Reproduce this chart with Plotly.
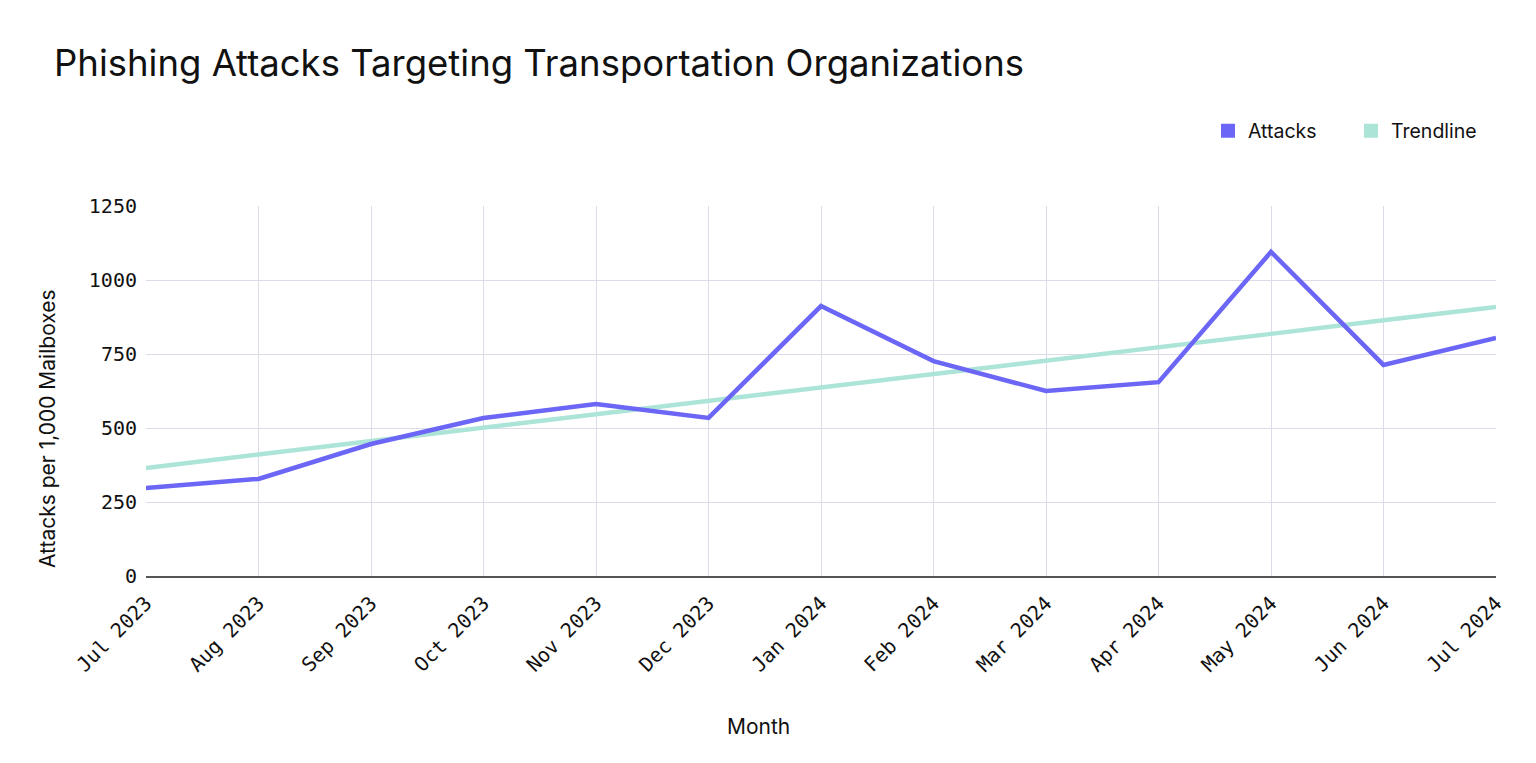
import plotly.graph_objects as go

months = ["Jul 2023", "Aug 2023", "Sep 2023", "Oct 2023", "Nov 2023", "Dec 2023",
          "Jan 2024", "Feb 2024", "Mar 2024", "Apr 2024", "May 2024", "Jun 2024", "Jul 2024"]
attacks = [297, 328, 446, 534, 581, 534, 912, 726, 625, 655, 1095, 713, 804]
trendline = [365, 410, 456, 501, 546, 592, 637, 682, 728, 773, 818, 864, 909]
y_ticks = [0, 250, 500, 750, 1000, 1250]

ATT = "#6b66f6"
TRD = "#ace4d8"

fig = go.Figure()
fig.add_trace(go.Scatter(x=months, y=trendline, mode="lines", name="Trendline",
                         line=dict(color=TRD, width=4.5), showlegend=False))
fig.add_trace(go.Scatter(x=months, y=attacks, mode="lines", name="Attacks",
                         line=dict(color=ATT, width=4.5), showlegend=False))
fig.add_trace(go.Scatter(x=[None], y=[None], mode="markers", name="Attacks",
                         marker=dict(symbol="square", size=14, color=ATT)))
fig.add_trace(go.Scatter(x=[None], y=[None], mode="markers", name="Trendline",
                         marker=dict(symbol="square", size=14, color=TRD)))

fig.update_layout(
    width=1536, height=763,
    margin=dict(l=146, r=40, t=206, b=187),
    paper_bgcolor="white", plot_bgcolor="white",
    title=dict(text="Phishing Attacks Targeting Transportation Organizations",
               x=54/1536, xanchor="left", y=1-63/763, yanchor="middle",
               font=dict(family="Inter", size=36.5, color="#111111")),
    legend=dict(orientation="h", x=1208/1536, xanchor="left", y=1-131/763, yanchor="middle",
                yref="container", xref="container",
                font=dict(family="Inter", size=19.5, color="#111111"),
                entrywidth=98, entrywidthmode="pixels", itemwidth=30),
    xaxis=dict(
        tickangle=-45, tickfont=dict(family="DejaVu Sans Mono", size=20, color="#111111"),
        showgrid=True, gridcolor="#dedbe8", gridwidth=1,
        showline=True, linecolor="#555555", linewidth=1.5,
        ticks="", ticklabelstandoff=6,
    ),
    yaxis=dict(
        tickvals=y_ticks, ticktext=[str(v) for v in y_ticks],
        tickfont=dict(family="DejaVu Sans Mono", size=20, color="#111111"),
        range=[0, 1250], showgrid=True, gridcolor="#dedbe8", gridwidth=1,
        zeroline=False, showline=False, ticks="", ticklabelstandoff=8,
    ),
    annotations=[
        dict(text="Attacks per 1,000 Mailboxes", textangle=-90,
             xref="paper", yref="paper", x=-(146-47)/1350, y=(576-429)/370,
             xanchor="center", yanchor="middle", showarrow=False,
             font=dict(family="Inter", size=21, color="#111111")),
        dict(text="Month", xref="paper", yref="paper",
             x=(758-146)/1350, y=-(726-576)/370,
             xanchor="center", yanchor="middle", showarrow=False,
             font=dict(family="Inter", size=21, color="#111111")),
    ],
)
fig.update_xaxes(type="category", range=[0, 12])
fig.write_html("out.html")
